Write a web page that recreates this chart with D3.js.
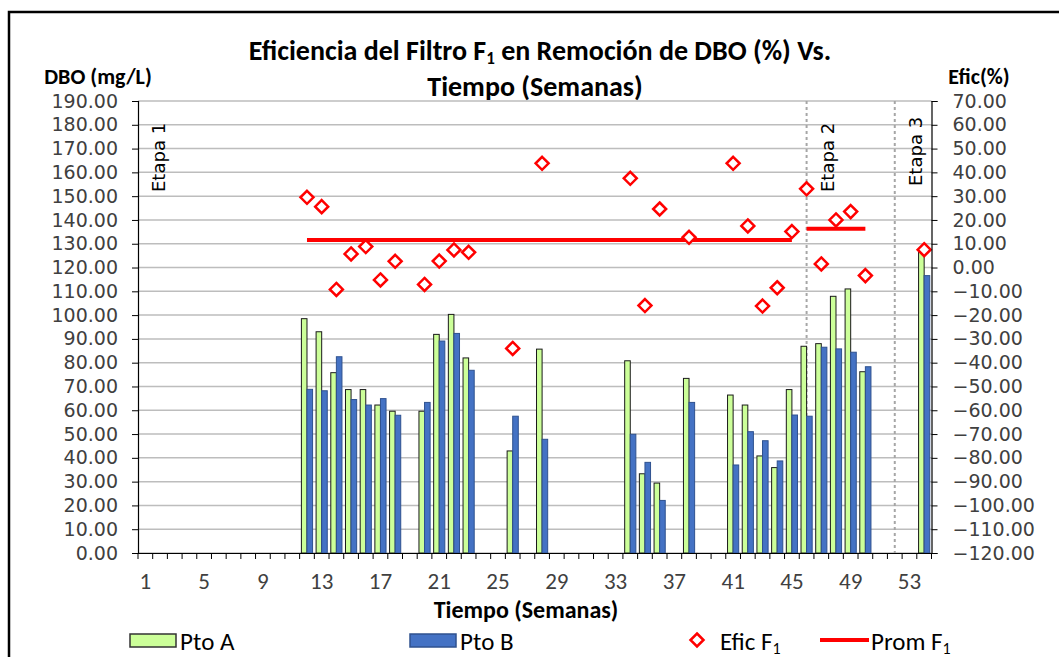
<!DOCTYPE html>
<html>
<head>
<meta charset="utf-8">
<script src="https://cdn.jsdelivr.net/npm/d3@7"></script>
<style>
  body { margin: 0; background: #fff; }
  .cal { font-family: Carlito, Calibri, 'Liberation Sans Narrow', 'Open Sans', sans-serif; }
  .dv { font-family: 'DejaVu Sans', Verdana, sans-serif; }
</style>
</head>
<body>
<svg id="chart" width="1059" height="657"></svg>
<script>
// semanas con medicion
const semanas = [12,13,14,15,16,17,18,20,21,22,23,26,28,34,35,36,38,41,42,43,44,45,46,47,48,49,50,54];
const ptoA = [98.5,93,75.8,68.7,68.7,62.2,59.6,59.6,91.9,100.3,82,42.9,85.7,80.8,33.3,29.4,73.4,66.4,62.2,40.8,35.9,68.7,86.9,88,107.9,111,76.2,126.5];
const ptoB = [68.8,68.2,82.5,64.5,62.2,64.9,57.9,63.3,89.1,92.3,76.8,57.5,47.8,49.9,38.1,22.1,63.3,37,51,47.2,38.7,58,57.5,86.5,85.8,84.4,78.3,116.6];
const eficF1 = [29.5,25.6,-9.2,5.7,8.8,-5.2,2.6,-7.1,2.7,7.4,6.4,-34,43.8,37.5,-16,24.6,12.7,43.8,17.5,-16.2,-8.5,15.1,33.1,1.5,20,23.5,-3.4,7.5];
// promedio por etapa: [semana inicio, semana fin, valor]
const promF1 = [[12,45,11.6],[46,50,16.3]];
const etapas = [['Etapa 1',1],['Etapa 2',46],['Etapa 3',52]];
const semanasX = d3.range(1,55);
const ticksX = d3.range(1,55,4);
const ticksIzq = d3.range(0,191,10);
const ticksDer = d3.range(-120,71,10);

let svg = d3.select('#chart');

const mLeft = 138, mRight = 931.5, mTop = 101, mBottom = 553;

let x = d3.scaleBand().domain(semanasX).range([mLeft, mRight]).padding(0);
let xs = d3.scaleBand().domain(['A','B']).range([x.bandwidth()*0.12, x.bandwidth()*0.88]).padding(0);
let y = d3.scaleLinear().domain([0,190]).range([mBottom, mTop]);
let y2 = d3.scaleLinear().domain([-120,70]).range([mBottom, mTop]);

// marco
svg.append('rect')
  .attr('x', 9).attr('y', 12).attr('width', 1080).attr('height', 700)
  .attr('fill', 'none').attr('stroke', '#000').attr('stroke-width', 2.5);

// lineas de cuadricula
svg.append('g').selectAll('line').data(ticksIzq).enter().append('line')
  .attr('x1', mLeft).attr('x2', mRight)
  .attr('y1', d => y(d)).attr('y2', d => y(d))
  .attr('stroke', '#bdbdbd').attr('stroke-width', 1.5);

// separadores de etapa
svg.append('g').selectAll('line').data(etapas.slice(1)).enter().append('line')
  .attr('x1', d => x(d[1]) + x.bandwidth()/2).attr('x2', d => x(d[1]) + x.bandwidth()/2)
  .attr('y1', mTop).attr('y2', mBottom)
  .attr('stroke', '#a6a6a6').attr('stroke-width', 2).attr('stroke-dasharray', '3,3');

let etq = svg.append('g').attr('class', 'dv').style('font-size', '18px').attr('fill', '#000');
etq.selectAll('text').data(etapas).enter().append('text')
  .attr('transform', (d, i) => {
    let cx = i === 0 ? 164.5 : x(d[1]) + x.bandwidth()/2 + 27;
    let cy = i === 2 ? 186 : 192;
    return `translate(${cx},${cy}) rotate(-90)`;
  })
  .text(d => d[0]);

// barras
let barras = svg.append('g');
barras.selectAll('rect.a').data(semanas).enter().append('rect')
  .attr('class', 'a')
  .attr('x', d => x(d) + xs('A'))
  .attr('width', xs.bandwidth())
  .attr('y', (d, i) => y(ptoA[i]))
  .attr('height', (d, i) => y(0) - y(ptoA[i]))
  .attr('fill', '#ccff99').attr('stroke', '#1a1a1a').attr('stroke-width', 1);
barras.selectAll('rect.b').data(semanas).enter().append('rect')
  .attr('class', 'b')
  .attr('x', d => x(d) + xs('B'))
  .attr('width', xs.bandwidth())
  .attr('y', (d, i) => y(ptoB[i]))
  .attr('height', (d, i) => y(0) - y(ptoB[i]))
  .attr('fill', '#4472c4').attr('stroke', '#2f528f').attr('stroke-width', 1);

// promedios
svg.append('g').selectAll('line').data(promF1).enter().append('line')
  .attr('x1', d => x(d[0]) + x.bandwidth()/2).attr('x2', d => x(d[1]) + x.bandwidth()/2)
  .attr('y1', d => y2(d[2])).attr('y2', d => y2(d[2]))
  .attr('stroke', '#ff0000').attr('stroke-width', 4);

// eficiencia
const rombo = 'M0,-6.5L6.5,0L0,6.5L-6.5,0Z';
svg.append('g').selectAll('path').data(semanas).enter().append('path')
  .attr('d', rombo)
  .attr('transform', (d, i) => `translate(${x(d) + x.bandwidth()/2},${y2(eficF1[i])})`)
  .attr('fill', '#fff').attr('stroke', '#ff0000').attr('stroke-width', 2.5);

// ejes
let ejeIzq = svg.append('g').attr('transform', `translate(${mLeft},0)`);
ejeIzq.call(d3.axisLeft(y).tickValues(d3.range(0,191,2)).tickSize(3).tickFormat(''));
ejeIzq.call(d3.axisLeft(y).tickValues(ticksIzq).tickSize(6).tickFormat(d3.format('.2f')));
ejeIzq.selectAll('text').attr('class', 'dv').style('font-size', '19px').attr('fill', '#404040').attr('x', -20);

let ejeDer = svg.append('g').attr('transform', `translate(${mRight},0)`);
ejeDer.call(d3.axisRight(y2).tickValues(d3.range(-120,71,2)).tickSize(3).tickFormat(''));
ejeDer.call(d3.axisRight(y2).tickValues(ticksDer).tickSize(6).tickFormat(d3.format('.2f')));
ejeDer.selectAll('text').attr('class', 'dv').style('font-size', '19px').attr('fill', '#404040').attr('x', 21);

let ejeX = svg.append('g').attr('transform', `translate(0,${mBottom})`);
ejeX.call(d3.axisBottom(x).tickValues(ticksX).tickSize(0).tickPadding(20));
ejeX.selectAll('text').attr('class', 'cal').style('font-size', '23px').attr('fill', '#404040');
ejeX.append('g').selectAll('line').data(d3.range(0,55)).enter().append('line')
  .attr('x1', d => mLeft + d*x.bandwidth()).attr('x2', d => mLeft + d*x.bandwidth())
  .attr('y1', 0).attr('y2', 6).attr('stroke', '#000');

svg.selectAll('.domain').attr('stroke', '#000').attr('stroke-width', 1.2);
svg.selectAll('.tick line').attr('stroke', '#000');

// titulos
let tit = svg.append('g').attr('class', 'cal').style('font-weight', 'bold').attr('fill', '#000').attr('text-anchor', 'middle');
tit.append('text').attr('x', 540).attr('y', 60).style('font-size', '28px')
  .html('Eficiencia del Filtro F<tspan dy="4" font-size="17">1</tspan><tspan dy="-4"> en Remoción de DBO (%) Vs.</tspan>');
tit.append('text').attr('x', 535).attr('y', 96).style('font-size', '28px').text('Tiempo (Semanas)');
tit.append('text').attr('x', 98).attr('y', 84).style('font-size', '22px').text('DBO (mg/L)');
tit.append('text').attr('x', 979).attr('y', 84).style('font-size', '22px').text('Efic(%)');
tit.append('text').attr('x', 526).attr('y', 618).style('font-size', '24px').text('Tiempo (Semanas)');

// leyenda
let ley = svg.append('g').attr('class', 'cal').style('font-size', '25px').attr('fill', '#000');
ley.append('rect').attr('x', 130).attr('y', 634).attr('width', 46).attr('height', 13)
  .attr('fill', '#ccff99').attr('stroke', '#333').attr('stroke-width', 1.5);
ley.append('text').attr('x', 180).attr('y', 650).text('Pto A');
ley.append('rect').attr('x', 410).attr('y', 634).attr('width', 46).attr('height', 13)
  .attr('fill', '#4472c4').attr('stroke', '#2f528f').attr('stroke-width', 1.5);
ley.append('text').attr('x', 460).attr('y', 650).text('Pto B');
ley.append('path').attr('d', rombo).attr('transform', 'translate(697,640)')
  .attr('fill', '#fff').attr('stroke', '#ff0000').attr('stroke-width', 2.5);
ley.append('text').attr('x', 720).attr('y', 650).html('Efic F<tspan dy="4" font-size="16">1</tspan>');
ley.append('line').attr('x1', 820).attr('x2', 869).attr('y1', 640).attr('y2', 640)
  .attr('stroke', '#ff0000').attr('stroke-width', 4);
ley.append('text').attr('x', 871).attr('y', 650).html('Prom F<tspan dy="4" font-size="16">1</tspan>');
</script>
</body>
</html>
